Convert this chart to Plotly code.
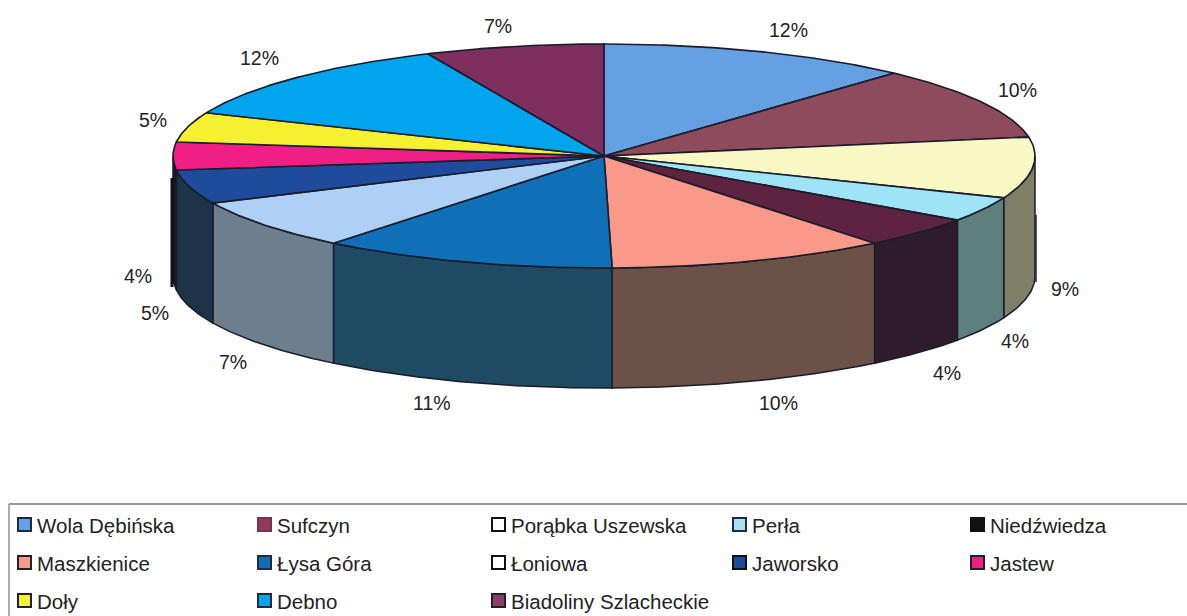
import numpy as np
import plotly.graph_objects as go

# ---- data ----
categories = ["Wola Dębińska", "Sufczyn", "Porąbka Uszewska", "Perła", "Niedźwiedza",
              "Maszkienice", "Łysa Góra", "Łoniowa", "Jaworsko", "Jastew",
              "Doły", "Debno", "Biadoliny Szlacheckie"]
values = [11.75, 10.55, 8.8, 3.6, 4.5, 10.5, 11.1, 7.3, 4.9, 4.0, 4.3, 12.0, 6.7]
value_labels = ["12%", "10%", "9%", "4%", "4%", "10%", "11%", "7%", "5%", "4%", "5%", "12%", "7%"]

# ---- styles ----
top_colors = ["#64a0e2", "#8e4b5e", "#f8f8c4", "#9fe3f7", "#5e2340", "#f8998a", "#0f70b8",
              "#add0f4", "#1e4b9c", "#f01f85", "#f5f030", "#00a5ee", "#7f2f5e"]
side_colors = ["#3f648e", "#5c3340", "#7f7f68", "#5f7f7c", "#2e1c2a", "#6b5148", "#1f4a63",
               "#6c7f8c", "#1c3448", "#141a22", "#7a7818", "#005a85", "#441832"]
swatch_edges = ["#1c2a44", "#7f2f4e", "#111111", "#1c2a44", "#111111", "#222222", "#1c2a44",
                "#111111", "#111111", "#222222", "#222222", "#1c2a44", "#222222"]
swatch_fills = ["#64a0e2", "#8e3b5e", "#ffffff", "#a8e2f7", "#111111", "#f8998a", "#0f70b8",
                "#ffffff", "#1e4b9c", "#f01f85", "#f5f030", "#00a5ee", "#8e3b6e"]
EDGE = "#1a1c2a"
TEXT = "#222222"
FONT = "Liberation Sans"

# ---- layout constants (pixels) ----
W, H = 1187, 616
CX, CY, RX, RY, DEPTH = 604, 156, 431, 112, 120
label_xy = [(788, 30), (1017, 90), (1065, 289), (1015, 341), (947, 373), (778, 403), (432, 403),
            (233, 362), (155, 313), (138, 276), (153, 120), (259, 58), (498, 26)]
legend_columns = [18, 258, 492, 733, 971]
legend_rows = [525, 563, 601]

depth_u = DEPTH / RY
shares = np.array(values) / sum(values) * 360.0
ends = np.cumsum(shares)
starts = ends - shares


def rim(a0, a1, drop=0.0):
    t = np.radians(np.linspace(a0, a1, max(int(a1 - a0) * 2, 2) + 1))
    return np.sin(t), np.cos(t) - drop


fig = go.Figure()

# sides: only the part of each slice on the front half of the disc
for name, a0, a1, col in zip(categories, starts, ends, side_colors):
    lo, hi = max(a0, 90.0), min(a1, 270.0)
    if hi <= lo:
        continue
    x1, y1 = rim(lo, hi)
    x2, y2 = rim(lo, hi, depth_u)
    fig.add_trace(go.Scatter(
        x=np.r_[x1, x2[::-1], x1[0]], y=np.r_[y1, y2[::-1], y1[0]],
        mode="lines", fill="toself", fillcolor=col,
        line=dict(color=EDGE, width=1.5), name=name, hoverinfo="name", showlegend=False))

# top faces
for name, a0, a1, col in zip(categories, starts, ends, top_colors):
    x1, y1 = rim(a0, a1)
    fig.add_trace(go.Scatter(
        x=np.r_[0, x1, 0], y=np.r_[0, y1, 0],
        mode="lines", fill="toself", fillcolor=col,
        line=dict(color=EDGE, width=1.6), name=name, hoverinfo="name", showlegend=False))


def paper_x(px):
    return px / W


def paper_y(py):
    return 1 - py / H


annotations = []
shapes = []

# percent labels
for txt, (px, py) in zip(value_labels, label_xy):
    annotations.append(dict(text=txt, x=paper_x(px), y=paper_y(py), xref="paper", yref="paper",
                            showarrow=False, xanchor="center", yanchor="middle",
                            font=dict(family=FONT, size=19.5, color=TEXT)))

# scan artefact lines beside the disc
shapes.append(dict(type="line", xref="paper", yref="paper", x0=paper_x(172), x1=paper_x(172),
                   y0=paper_y(178), y1=paper_y(287), line=dict(color="#111111", width=3), layer="above"))
shapes.append(dict(type="line", xref="paper", yref="paper", x0=paper_x(1036), x1=paper_x(1036),
                   y0=paper_y(215), y1=paper_y(282), line=dict(color="#222222", width=1.5), layer="above"))

# legend frame
shapes.append(dict(type="line", xref="paper", yref="paper", x0=paper_x(9), x1=1,
                   y0=paper_y(504), y1=paper_y(504), line=dict(color="#777777", width=1.5)))
shapes.append(dict(type="line", xref="paper", yref="paper", x0=paper_x(9), x1=paper_x(9),
                   y0=paper_y(504), y1=0, line=dict(color="#777777", width=1.2)))

# legend entries
for i, name in enumerate(categories):
    row, col = i // 5, i % 5
    px, py = legend_columns[col], legend_rows[row]
    shapes.append(dict(type="rect", xref="paper", yref="paper",
                       x0=paper_x(px), x1=paper_x(px + 13), y0=paper_y(py - 7), y1=paper_y(py + 6),
                       fillcolor=swatch_fills[i], line=dict(color=swatch_edges[i], width=2), layer="above"))
    annotations.append(dict(text=name, x=paper_x(px + 17), y=paper_y(py), xref="paper", yref="paper",
                            showarrow=False, xanchor="left", yanchor="middle",
                            font=dict(family=FONT, size=20.5, color=TEXT)))

fig.update_layout(
    width=W, height=H, margin=dict(l=0, r=0, t=0, b=0),
    paper_bgcolor="#ffffff", plot_bgcolor="#ffffff", showlegend=False,
    xaxis=dict(range=[-CX / RX, (W - CX) / RX], visible=False, fixedrange=True),
    yaxis=dict(range=[-(H - CY) / RY, CY / RY], visible=False, fixedrange=True),
    annotations=annotations, shapes=shapes,
)

fig.write_html("out.html", config={"displayModeBar": False},
               post_script="document.body.style.margin='0';document.body.style.overflow='hidden';")
